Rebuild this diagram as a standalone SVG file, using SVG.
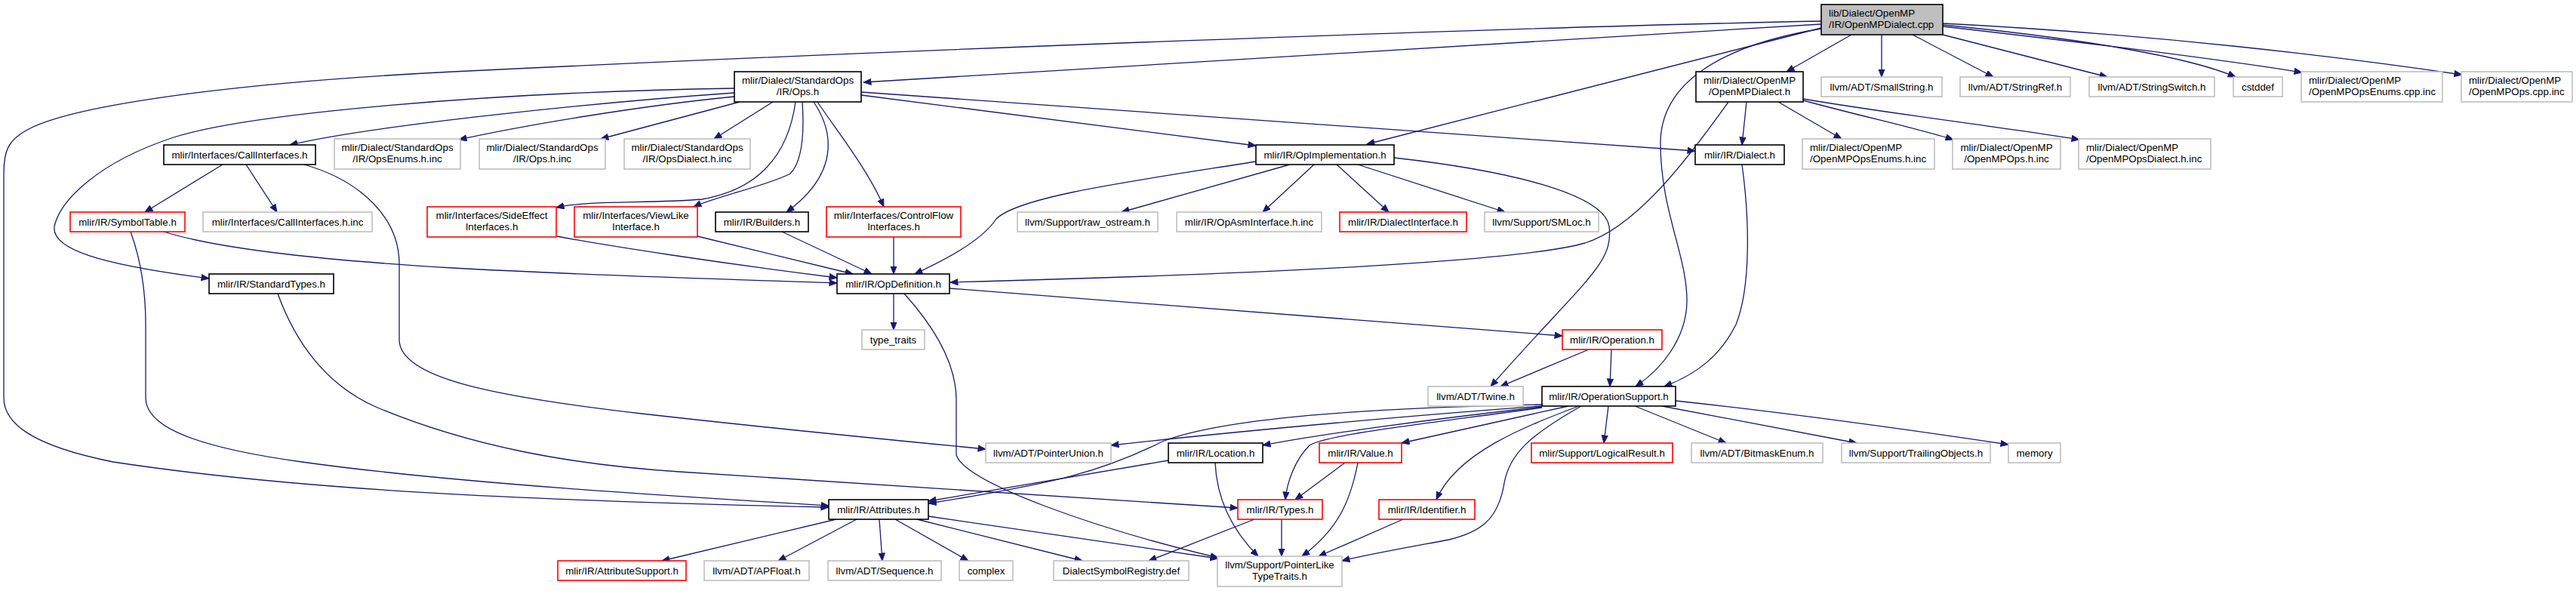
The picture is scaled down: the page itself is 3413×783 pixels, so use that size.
<svg xmlns="http://www.w3.org/2000/svg" width="3413" height="783" viewBox="0 0 3413 783">
<style>
.n rect{fill:#fff;stroke-width:1.6}
.b rect{stroke:#000}
.g rect{stroke:#bfbfbf}
.r rect{stroke:#ff0000}
.root rect{fill:#bfbfbf;stroke:#000}
text{font-family:"Liberation Sans",Arial,Helvetica,sans-serif;font-size:13.33px;fill:#000}
.c{text-anchor:middle}
#edges path{fill:none;stroke:#191970;stroke-width:1.3;marker-end:url(#ah)}
</style>
<defs>
<marker id="ah" markerUnits="userSpaceOnUse" markerWidth="11" markerHeight="10" refX="10.5" refY="4.5" orient="auto">
<path d="M0.5,0.5 L10.5,4.5 L0.5,8.5 z" fill="#191970" stroke="#191970" stroke-width="1"/>
</marker>
</defs>
<rect width="3413" height="783" fill="#fff"/>
<g id="edges">
<path d="M2413,32 L1144,109"/>
<path d="M2413,28 C2000,36 1200,66 600,95 C300,110 100,140 40,170 C10,185 5,200 5,230 L5,527 C5,560 40,590 150,612 C400,650 700,663 1098,672"/>
<path d="M2413,37 L1811,191"/>
<path d="M2453,46 L2367,95"/>
<path d="M2413,38 C2280,60 2200,110 2200,190 C2200,280 2236,340 2235,400 C2234,450 2200,490 2167,512"/>
<path d="M2290,135 C2240,205 2170,300 2100,322 C2000,350 1600,365 1259,374"/>
<path d="M2314,135 L2308,192"/>
<path d="M2356,135 L2440,184"/>
<path d="M2389,133 C2470,155 2540,170 2588,185"/>
<path d="M2389,131 C2500,150 2650,168 2755,185"/>
<path d="M2493,46 L2493,102"/>
<path d="M2534,46 L2641,102"/>
<path d="M2574,46 L2792,102"/>
<path d="M2574,33 C2750,50 2900,75 2962,102"/>
<path d="M2574,35 C2750,55 2950,80 3050,96"/>
<path d="M2574,31 C2850,45 3100,75 3262,99"/>
<path d="M973,117 C650,122 330,150 230,182 C130,215 80,265 72,300 C68,330 130,350 277,369"/>
<path d="M973,123 C800,135 500,165 384,192"/>
<path d="M973,128 C850,140 700,165 608,185"/>
<path d="M980,135 L796,184"/>
<path d="M1024,135 L946,184"/>
<path d="M1054,135 C1045,200 1010,250 930,264 C860,270 780,265 737,275"/>
<path d="M1063,135 C1066,180 1062,215 1047,230 C1020,245 950,260 919,274"/>
<path d="M1078,135 C1105,175 1112,230 1042,281"/>
<path d="M1083,135 C1110,175 1150,225 1171,274"/>
<path d="M1141,126 L1664,193"/>
<path d="M1141,122 L2246,200"/>
<path d="M295,218 L192,281"/>
<path d="M326,218 L367,281"/>
<path d="M403,218 C480,240 529,290 529,350 L529,450 C529,500 650,525 850,548 C1000,565 1150,580 1306,595"/>
<path d="M173,307 C185,340 193,380 193,430 L193,527 C193,560 240,590 400,612 C600,640 900,658 1098,670"/>
<path d="M217,307 C290,330 430,345 600,355 C800,366 1000,371 1109,375"/>
<path d="M738,313 C800,325 950,348 1109,368"/>
<path d="M924,313 L1130,363"/>
<path d="M1036,307 L1155,363"/>
<path d="M1184,314 L1184,363"/>
<path d="M1664,214 C1500,240 1350,260 1320,290 C1300,320 1250,345 1212,363"/>
<path d="M1709,218 L1486,281"/>
<path d="M1741,218 L1673,281"/>
<path d="M1771,218 L1840,281"/>
<path d="M1799,218 L1994,281"/>
<path d="M1847,209 C1990,225 2125,255 2132,300 C2138,350 2100,370 1975,512"/>
<path d="M1184,389 L1184,437"/>
<path d="M1198,389 C1235,430 1267,480 1267,530 L1267,603 C1280,640 1450,700 1614,739"/>
<path d="M1258,382 L2070,445"/>
<path d="M2105,463 L1988,512"/>
<path d="M2135,463 L2133,512"/>
<path d="M2308,218 C2318,290 2320,380 2300,430 C2280,470 2250,495 2205,512"/>
<path d="M2043,538 C1900,548 1650,570 1472,590"/>
<path d="M2043,539 C1900,555 1750,575 1673,590"/>
<path d="M2043,536 C1850,540 1630,550 1540,585 C1460,625 1400,640 1230,667"/>
<path d="M2043,540 C1900,560 1760,575 1735,590 C1715,610 1705,640 1703,662"/>
<path d="M2078,538 L1857,587"/>
<path d="M2092,538 C2020,565 1930,600 1903,662"/>
<path d="M2095,538 C2030,575 2000,600 1993,640 C1985,690 1960,705 1920,715 C1850,728 1810,735 1778,743"/>
<path d="M2131,538 L2125,587"/>
<path d="M2166,538 L2287,587"/>
<path d="M2202,538 L2460,587"/>
<path d="M2220,531 C2350,545 2500,565 2661,589"/>
<path d="M1610,613 C1612,660 1630,700 1667,737"/>
<path d="M1548,610 L1230,664"/>
<path d="M1662,688 L1522,743"/>
<path d="M1698,688 L1698,737"/>
<path d="M1782,613 L1716,662"/>
<path d="M1799,613 C1790,660 1775,700 1725,737"/>
<path d="M1859,688 L1747,737"/>
<path d="M1108,688 L877,743"/>
<path d="M1135,688 L1031,743"/>
<path d="M1165,688 L1169,743"/>
<path d="M1186,688 L1283,743"/>
<path d="M1215,688 L1434,743"/>
<path d="M1230,684 L1614,740"/>
<path d="M368,389 C390,450 430,510 500,540 C620,590 750,615 900,625 C1200,645 1450,660 1640,673"/>
</g>
<g id="root" class="n root"><rect x="2413" y="6" width="161" height="40"/><text x="2423" y="21.5">lib/Dialect/OpenMP</text><text x="2423" y="36.5">/IR/OpenMPDialect.cpp</text></g>
<g id="opsh" class="n b"><rect x="973" y="95" width="168" height="40"/><text class="c" x="1057" y="110.5">mlir/Dialect/StandardOps</text><text class="c" x="1057" y="125.5">/IR/Ops.h</text></g>
<g id="ompdialecth" class="n b"><rect x="2247" y="95" width="142" height="40"/><text class="c" x="2318" y="110.5">mlir/Dialect/OpenMP</text><text class="c" x="2318" y="125.5">/OpenMPDialect.h</text></g>
<g id="smallstring" class="n g"><rect x="2413" y="102" width="160" height="26"/><text class="c" x="2493" y="119.5">llvm/ADT/SmallString.h</text></g>
<g id="stringref" class="n g"><rect x="2597" y="102" width="146" height="26"/><text class="c" x="2670" y="119.5">llvm/ADT/StringRef.h</text></g>
<g id="stringswitch" class="n g"><rect x="2768" y="102" width="166" height="26"/><text class="c" x="2851" y="119.5">llvm/ADT/StringSwitch.h</text></g>
<g id="cstddef" class="n g"><rect x="2959" y="102" width="65" height="26"/><text class="c" x="2991.5" y="119.5">cstddef</text></g>
<g id="ompenumscpp" class="n g"><rect x="3049" y="95" width="187" height="40"/><text x="3059" y="110.5">mlir/Dialect/OpenMP</text><text x="3059" y="125.5">/OpenMPOpsEnums.cpp.inc</text></g>
<g id="ompopscpp" class="n g"><rect x="3261" y="95" width="147" height="40"/><text x="3271" y="110.5">mlir/Dialect/OpenMP</text><text x="3271" y="125.5">/OpenMPOps.cpp.inc</text></g>
<g id="callif" class="n b"><rect x="217" y="192" width="201" height="26"/><text class="c" x="317.5" y="209.5">mlir/Interfaces/CallInterfaces.h</text></g>
<g id="opsenumsinc" class="n g"><rect x="443" y="184" width="167" height="40"/><text class="c" x="526.5" y="199.5">mlir/Dialect/StandardOps</text><text class="c" x="526.5" y="214.5">/IR/OpsEnums.h.inc</text></g>
<g id="opshinc" class="n g"><rect x="635" y="184" width="167" height="40"/><text class="c" x="718.5" y="199.5">mlir/Dialect/StandardOps</text><text class="c" x="718.5" y="214.5">/IR/Ops.h.inc</text></g>
<g id="opsdialectinc" class="n g"><rect x="827" y="184" width="167" height="40"/><text class="c" x="910.5" y="199.5">mlir/Dialect/StandardOps</text><text class="c" x="910.5" y="214.5">/IR/OpsDialect.h.inc</text></g>
<g id="opimpl" class="n b"><rect x="1664" y="192" width="183" height="26"/><text class="c" x="1755.5" y="209.5">mlir/IR/OpImplementation.h</text></g>
<g id="dialecth" class="n b"><rect x="2246" y="192" width="118" height="26"/><text class="c" x="2305" y="209.5">mlir/IR/Dialect.h</text></g>
<g id="ompenumsinc" class="n g"><rect x="2388" y="184" width="175" height="40"/><text x="2398" y="199.5">mlir/Dialect/OpenMP</text><text x="2398" y="214.5">/OpenMPOpsEnums.h.inc</text></g>
<g id="ompopsinc" class="n g"><rect x="2587" y="184" width="143" height="40"/><text class="c" x="2658.5" y="199.5">mlir/Dialect/OpenMP</text><text class="c" x="2658.5" y="214.5">/OpenMPOps.h.inc</text></g>
<g id="ompdialectinc" class="n g"><rect x="2754" y="184" width="175" height="40"/><text x="2764" y="199.5">mlir/Dialect/OpenMP</text><text x="2764" y="214.5">/OpenMPOpsDialect.h.inc</text></g>
<g id="symtab" class="n r"><rect x="93" y="281" width="152" height="26"/><text class="c" x="169" y="298.5">mlir/IR/SymbolTable.h</text></g>
<g id="callifinc" class="n g"><rect x="269" y="281" width="224" height="26"/><text class="c" x="381" y="298.5">mlir/Interfaces/CallInterfaces.h.inc</text></g>
<g id="sideeffect" class="n r"><rect x="566" y="274" width="171" height="40"/><text class="c" x="651.5" y="289.5">mlir/Interfaces/SideEffect</text><text class="c" x="651.5" y="304.5">Interfaces.h</text></g>
<g id="viewlike" class="n r"><rect x="761" y="274" width="163" height="40"/><text class="c" x="842.5" y="289.5">mlir/Interfaces/ViewLike</text><text class="c" x="842.5" y="304.5">Interface.h</text></g>
<g id="builders" class="n b"><rect x="948" y="281" width="123" height="26"/><text class="c" x="1009.5" y="298.5">mlir/IR/Builders.h</text></g>
<g id="controlflow" class="n r"><rect x="1095" y="274" width="178" height="40"/><text class="c" x="1184" y="289.5">mlir/Interfaces/ControlFlow</text><text class="c" x="1184" y="304.5">Interfaces.h</text></g>
<g id="rawostream" class="n g"><rect x="1348" y="281" width="186" height="26"/><text class="c" x="1441" y="298.5">llvm/Support/raw_ostream.h</text></g>
<g id="opasminc" class="n g"><rect x="1559" y="281" width="192" height="26"/><text class="c" x="1655" y="298.5">mlir/IR/OpAsmInterface.h.inc</text></g>
<g id="dialectif" class="n r"><rect x="1775" y="281" width="168" height="26"/><text class="c" x="1859" y="298.5">mlir/IR/DialectInterface.h</text></g>
<g id="smloc" class="n g"><rect x="1967" y="281" width="151" height="26"/><text class="c" x="2042.5" y="298.5">llvm/Support/SMLoc.h</text></g>
<g id="stdtypes" class="n b"><rect x="277" y="363" width="165" height="26"/><text class="c" x="359.5" y="380.5">mlir/IR/StandardTypes.h</text></g>
<g id="opdef" class="n b"><rect x="1109" y="363" width="149" height="26"/><text class="c" x="1183.5" y="380.5">mlir/IR/OpDefinition.h</text></g>
<g id="typetraits" class="n g"><rect x="1142" y="437" width="83" height="26"/><text class="c" x="1183.5" y="454.5">type_traits</text></g>
<g id="operation" class="n r"><rect x="2070" y="437" width="132" height="26"/><text class="c" x="2136" y="454.5">mlir/IR/Operation.h</text></g>
<g id="twine" class="n g"><rect x="1892" y="512" width="126" height="26"/><text class="c" x="1955" y="529.5">llvm/ADT/Twine.h</text></g>
<g id="opsupport" class="n b"><rect x="2043" y="512" width="177" height="26"/><text class="c" x="2131.5" y="529.5">mlir/IR/OperationSupport.h</text></g>
<g id="ptrunion" class="n g"><rect x="1306" y="587" width="166" height="26"/><text class="c" x="1389" y="604.5">llvm/ADT/PointerUnion.h</text></g>
<g id="location" class="n b"><rect x="1548" y="587" width="125" height="26"/><text class="c" x="1610.5" y="604.5">mlir/IR/Location.h</text></g>
<g id="value" class="n r"><rect x="1748" y="587" width="109" height="26"/><text class="c" x="1802.5" y="604.5">mlir/IR/Value.h</text></g>
<g id="logical" class="n r"><rect x="2029" y="587" width="187" height="26"/><text class="c" x="2122.5" y="604.5">mlir/Support/LogicalResult.h</text></g>
<g id="bitmask" class="n g"><rect x="2241" y="587" width="174" height="26"/><text class="c" x="2328" y="604.5">llvm/ADT/BitmaskEnum.h</text></g>
<g id="trailing" class="n g"><rect x="2440" y="587" width="197" height="26"/><text class="c" x="2538.5" y="604.5">llvm/Support/TrailingObjects.h</text></g>
<g id="memory" class="n g"><rect x="2661" y="587" width="69" height="26"/><text class="c" x="2695.5" y="604.5">memory</text></g>
<g id="attributes" class="n b"><rect x="1098" y="662" width="132" height="26"/><text class="c" x="1164" y="679.5">mlir/IR/Attributes.h</text></g>
<g id="types" class="n r"><rect x="1640" y="662" width="112" height="26"/><text class="c" x="1696" y="679.5">mlir/IR/Types.h</text></g>
<g id="identifier" class="n r"><rect x="1827" y="662" width="127" height="26"/><text class="c" x="1890.5" y="679.5">mlir/IR/Identifier.h</text></g>
<g id="attrsupport" class="n r"><rect x="739" y="743" width="170" height="26"/><text class="c" x="824" y="760.5">mlir/IR/AttributeSupport.h</text></g>
<g id="apfloat" class="n g"><rect x="933" y="743" width="139" height="26"/><text class="c" x="1002.5" y="760.5">llvm/ADT/APFloat.h</text></g>
<g id="sequence" class="n g"><rect x="1097" y="743" width="150" height="26"/><text class="c" x="1172" y="760.5">llvm/ADT/Sequence.h</text></g>
<g id="complex" class="n g"><rect x="1271" y="743" width="71" height="26"/><text class="c" x="1306.5" y="760.5">complex</text></g>
<g id="dsr" class="n g"><rect x="1396" y="743" width="179" height="26"/><text class="c" x="1485.5" y="760.5">DialectSymbolRegistry.def</text></g>
<g id="ptrlike" class="n g"><rect x="1613" y="737" width="165" height="40"/><text class="c" x="1695.5" y="752.5">llvm/Support/PointerLike</text><text class="c" x="1695.5" y="767.5">TypeTraits.h</text></g>
</svg>
